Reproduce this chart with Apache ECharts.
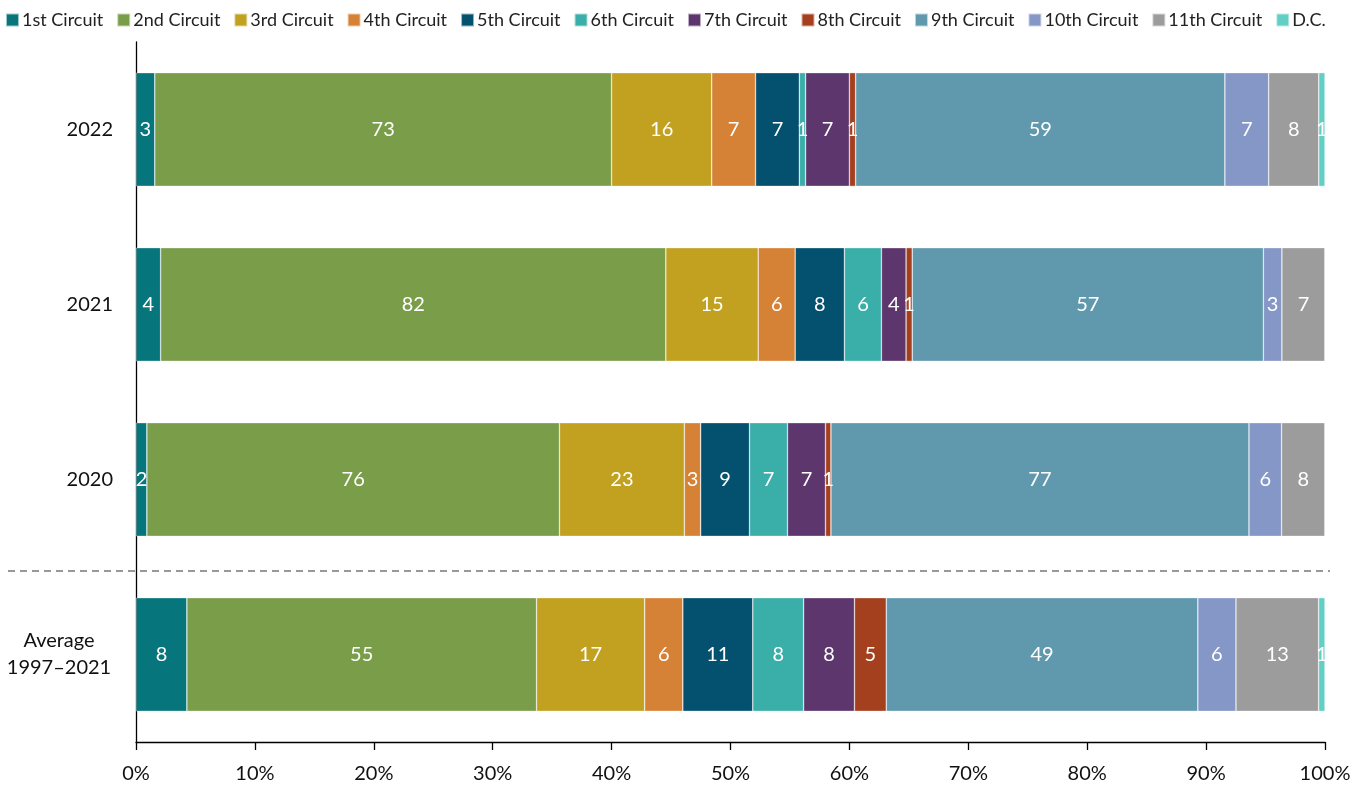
<!DOCTYPE html>
<html><head><meta charset="utf-8">
<script src="https://cdn.jsdelivr.net/npm/echarts@6/dist/echarts.min.js"></script>
<style>html,body{margin:0;padding:0;background:#fff}#c{width:1367px;height:788px}</style>
</head><body><div id="c"></div>
<script>
const categories = ['Average\n1997–2021', '2020', '2021', '2022'];
const circuits = ['1st Circuit','2nd Circuit','3rd Circuit','4th Circuit','5th Circuit','6th Circuit','7th Circuit','8th Circuit','9th Circuit','10th Circuit','11th Circuit','D.C.'];
const colors = ['#07767c','#7a9d4a','#c2a120','#d68236','#03506f','#3aaea9','#5d366e','#a5401e','#6099ae','#8497c6','#9c9c9c','#62cfc5'];
// counts per circuit, order: Average, 2020, 2021, 2022
const c1  = [8, 2, 4, 3];
const c2  = [55, 76, 82, 73];
const c3  = [17, 23, 15, 16];
const c4  = [6, 3, 6, 7];
const c5  = [11, 9, 8, 7];
const c6  = [8, 7, 6, 1];
const c7  = [8, 7, 4, 7];
const c8  = [5, 1, 1, 1];
const c9  = [49, 77, 57, 59];
const c10 = [6, 6, 3, 7];
const c11 = [13, 8, 7, 8];
const cdc = [1, 0, 0, 1];
const xTicks = ['0%','10%','20%','30%','40%','50%','60%','70%','80%','90%','100%'];

const all = [c1,c2,c3,c4,c5,c6,c7,c8,c9,c10,c11,cdc];
const totals = categories.map((_, i) => all.reduce((s, a) => s + a[i], 0));
const FONT = 'Lato, "Noto Sans", sans-serif';

const series = all.map((arr, k) => ({
  name: circuits[k],
  type: 'bar',
  stack: 'total',
  barCategoryGap: '35%',
  itemStyle: { color: colors[k], borderColor: 'rgba(255,255,255,0.6)', borderWidth: 0.6 },
  label: {
    show: true, color: '#fff', fontSize: 20, fontFamily: FONT,
    formatter: p => p.data.raw > 0 ? String(p.data.raw) : ''
  },
  data: arr.map((v, i) => ({ value: v / totals[i] * 100, raw: v }))
}));

const chart = echarts.init(document.getElementById('c'));
chart.setOption({
  animation: false,
  textStyle: { fontFamily: FONT },
  legend: {
    top: 6, left: 3, right: 0, padding: [5, 2, 5, 2], itemWidth: 13, itemHeight: 13, itemGap: 13,
    icon: 'rect',
    textStyle: { fontSize: 18, color: '#222', fontFamily: FONT, padding: [0,0,0,-2] },
    data: circuits
  },
  grid: { left: 136, right: 42, top: 42, bottom: 46, containLabel: false },
  xAxis: {
    type: 'value', min: 0, max: 100, interval: 10,
    axisLine: { show: true, lineStyle: { color: '#000', width: 1.3 } },
    axisTick: { show: true, length: 8, lineStyle: { color: '#000', width: 1.3 } },
    splitLine: { show: false },
    axisLabel: { fontSize: 20, color: '#111', margin: 22, fontFamily: FONT,
      formatter: v => xTicks[Math.round(v / 10)] }
  },
  yAxis: {
    type: 'category', data: categories,
    axisLine: { show: true, lineStyle: { color: '#000', width: 1.3 } },
    axisTick: { show: false },
    axisLabel: { fontSize: 20, color: '#111', margin: 23, align: 'right', fontFamily: FONT,
      formatter: v => v.indexOf('\n') >= 0 ? v.split('\n').map(s => '{c|' + s + '}').join('\n') : v,
      rich: { c: { width: 108, align: 'center', fontSize: 20, lineHeight: 27, fontFamily: FONT, color: '#111' } } },
    splitLine: { show: false }
  },
  series
});

// dashed separator between "2020" and "Average" bands
function drawSep() {
  const yA = chart.convertToPixel({ yAxisIndex: 0 }, categories[0]);
  const yB = chart.convertToPixel({ yAxisIndex: 0 }, categories[1]);
  const y = (yA + yB) / 2 + 4;
  chart.setOption({
    graphic: [{
      type: 'line', shape: { x1: 8, y1: y, x2: 1330, y2: y },
      style: { stroke: '#777', lineWidth: 1.5, lineDash: [7, 5] }, z: 10
    }]
  });
}
drawSep();
</script></body></html>
